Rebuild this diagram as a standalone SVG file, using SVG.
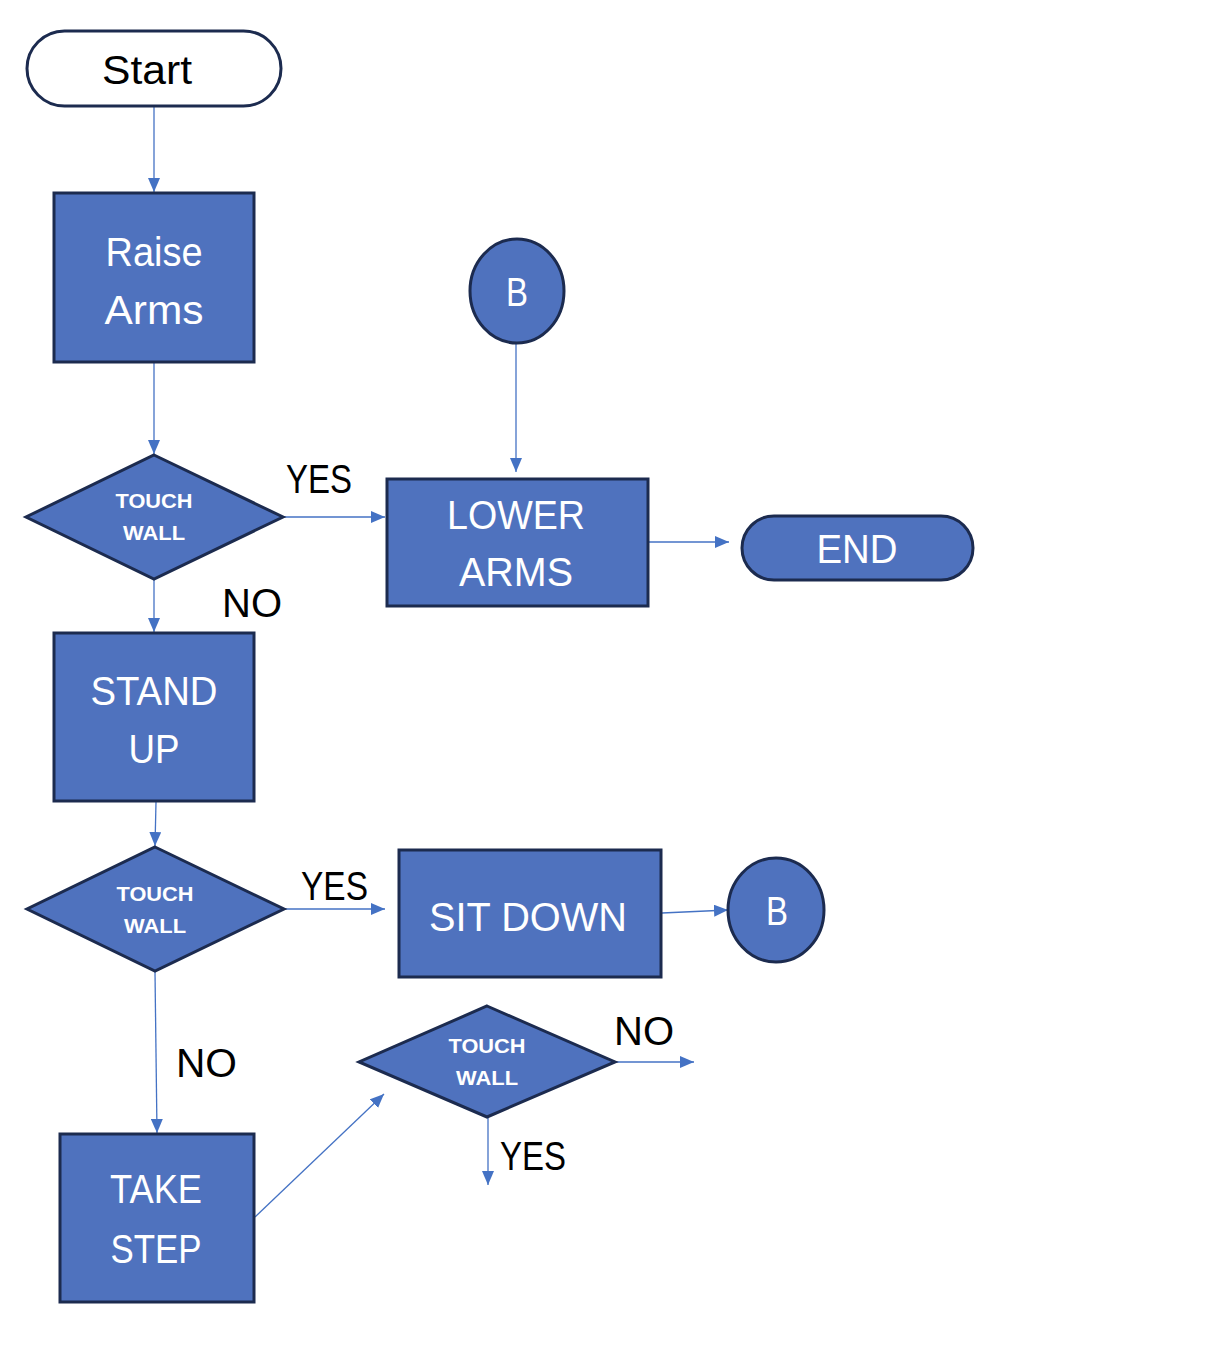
<svg xmlns="http://www.w3.org/2000/svg" width="1222" height="1350" viewBox="0 0 1222 1350">
<style>
.box{fill:#4F72BE;stroke:#1C2B4F;stroke-width:3}
.term{fill:#FFFFFF;stroke:#1C2B4F;stroke-width:3}
.wt{font-family:"Liberation Sans",Arial,sans-serif;font-size:40px;fill:#FFFFFF;text-anchor:middle}
.dt{font-family:"Liberation Sans",Arial,sans-serif;font-size:21px;font-weight:bold;fill:#FFFFFF;text-anchor:middle}
.bt{font-family:"Liberation Sans",Arial,sans-serif;font-size:40px;fill:#000000;text-anchor:middle}
.lbl{font-family:"Liberation Sans",Arial,sans-serif;font-size:40px;fill:#000000}
.conn{stroke:#4472C4;stroke-width:1.3;fill:none;marker-end:url(#ah)}
</style>
<defs>
<marker id="ah" markerWidth="14" markerHeight="12" refX="14" refY="6" orient="auto" markerUnits="userSpaceOnUse">
<path d="M0,0 L14,6 L0,12 Z" fill="#4472C4"/>
</marker>
</defs>
<rect width="1222" height="1350" fill="#FFFFFF"/>
<g id="connectors">
<line class="conn" x1="154" y1="107" x2="154" y2="192"/>
<line class="conn" x1="154" y1="363" x2="154" y2="454"/>
<line class="conn" x1="284" y1="517" x2="385" y2="517"/>
<line class="conn" x1="154" y1="580" x2="154" y2="632"/>
<line class="conn" x1="516" y1="344" x2="516" y2="472"/>
<line class="conn" x1="649" y1="542" x2="729" y2="542"/>
<line class="conn" x1="156" y1="802" x2="155" y2="846"/>
<line class="conn" x1="285" y1="909" x2="385" y2="909"/>
<line class="conn" x1="662" y1="913" x2="728" y2="910"/>
<line class="conn" x1="155" y1="972" x2="157" y2="1133"/>
<line class="conn" x1="255" y1="1217" x2="384" y2="1094"/>
<line class="conn" x1="616" y1="1062" x2="694" y2="1062"/>
<line class="conn" x1="488" y1="1118" x2="488" y2="1185"/>
<text class="lbl" x="286" y="493" textLength="66" lengthAdjust="spacingAndGlyphs">YES</text>
<text class="lbl" x="222" y="617" textLength="60" lengthAdjust="spacingAndGlyphs">NO</text>
<text class="lbl" x="301" y="900" textLength="67" lengthAdjust="spacingAndGlyphs">YES</text>
<text class="lbl" x="176" y="1077" textLength="61" lengthAdjust="spacingAndGlyphs">NO</text>
<text class="lbl" x="614" y="1045" textLength="60" lengthAdjust="spacingAndGlyphs">NO</text>
<text class="lbl" x="500" y="1170" textLength="66" lengthAdjust="spacingAndGlyphs">YES</text>
</g>
<g id="start">
<rect class="term" x="27" y="31" width="254" height="75" rx="37.5"/>
<text class="bt" x="147" y="84" textLength="90" lengthAdjust="spacingAndGlyphs">Start</text>
</g>
<g id="raise-arms">
<rect class="box" x="54" y="193" width="200" height="169"/>
<text class="wt" x="154" y="266" textLength="97" lengthAdjust="spacingAndGlyphs">Raise</text>
<text class="wt" x="154" y="324" textLength="99" lengthAdjust="spacingAndGlyphs">Arms</text>
</g>
<g id="decision-1">
<polygon class="box" points="154,455 283,517 154,579 26,517"/>
<text class="dt" x="154" y="508" textLength="77" lengthAdjust="spacingAndGlyphs">TOUCH</text>
<text class="dt" x="154" y="540" textLength="62" lengthAdjust="spacingAndGlyphs">WALL</text>
</g>
<g id="connector-b-top">
<ellipse class="box" cx="517" cy="291" rx="47" ry="52"/>
<text class="wt" x="517" y="306" textLength="22" lengthAdjust="spacingAndGlyphs">B</text>
</g>
<g id="lower-arms">
<rect class="box" x="387" y="479" width="261" height="127"/>
<text class="wt" x="516" y="529" textLength="138" lengthAdjust="spacingAndGlyphs">LOWER</text>
<text class="wt" x="516" y="586" textLength="114" lengthAdjust="spacingAndGlyphs">ARMS</text>
</g>
<g id="end">
<rect class="box" x="742" y="516" width="231" height="64" rx="32"/>
<text class="wt" x="857" y="563" textLength="81" lengthAdjust="spacingAndGlyphs">END</text>
</g>
<g id="stand-up">
<rect class="box" x="54" y="633" width="200" height="168"/>
<text class="wt" x="154" y="705" textLength="127" lengthAdjust="spacingAndGlyphs">STAND</text>
<text class="wt" x="154" y="763" textLength="51" lengthAdjust="spacingAndGlyphs">UP</text>
</g>
<g id="decision-2">
<polygon class="box" points="155,847 284,909 155,971 27,909"/>
<text class="dt" x="155" y="901" textLength="77" lengthAdjust="spacingAndGlyphs">TOUCH</text>
<text class="dt" x="155" y="933" textLength="62" lengthAdjust="spacingAndGlyphs">WALL</text>
</g>
<g id="sit-down">
<rect class="box" x="399" y="850" width="262" height="127"/>
<text class="wt" x="528" y="931" textLength="198" lengthAdjust="spacingAndGlyphs">SIT DOWN</text>
</g>
<g id="connector-b-right">
<ellipse class="box" cx="776" cy="910" rx="48" ry="52"/>
<text class="wt" x="777" y="925" textLength="22" lengthAdjust="spacingAndGlyphs">B</text>
</g>
<g id="take-step">
<rect class="box" x="60" y="1134" width="194" height="168"/>
<text class="wt" x="156" y="1203" textLength="92" lengthAdjust="spacingAndGlyphs">TAKE</text>
<text class="wt" x="156" y="1263" textLength="91" lengthAdjust="spacingAndGlyphs">STEP</text>
</g>
<g id="decision-3">
<polygon class="box" points="487,1006 615,1062 487,1117 359,1062"/>
<text class="dt" x="487" y="1053" textLength="77" lengthAdjust="spacingAndGlyphs">TOUCH</text>
<text class="dt" x="487" y="1085" textLength="62" lengthAdjust="spacingAndGlyphs">WALL</text>
</g>
</svg>
